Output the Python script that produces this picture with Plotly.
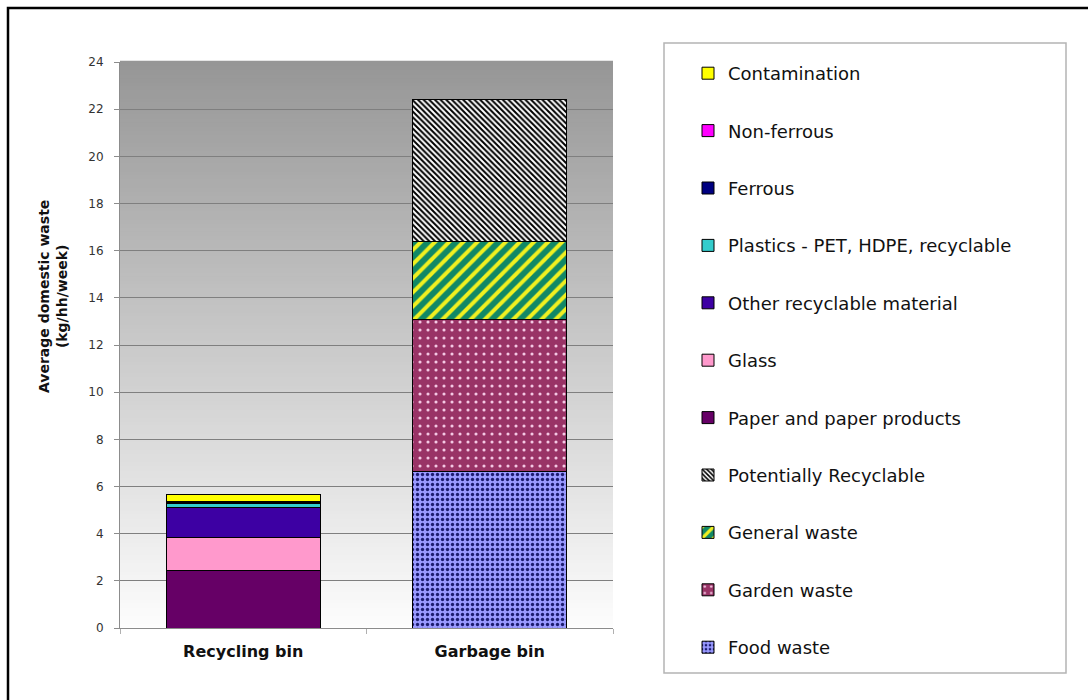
import plotly.graph_objects as go

# Bin categories
bins = ["Recycling bin", "Garbage bin"]

# Waste composition (kg per household per week), stacked bottom to top
food_waste = [0, 6.63]
garden_waste = [0, 6.46]
general_waste = [0, 3.29]
potentially_recyclable = [0, 6.01]
paper = [2.43, 0]
glass = [1.42, 0]
other_recyclable = [1.28, 0]
plastics = [0.13, 0]
ferrous = [0.08, 0]
non_ferrous = [0.02, 0]
contamination = [0.31, 0]

y_ticks = list(range(0, 25, 2))

series = [
    ("Food waste", food_waste, "#9999ff", dict(shape=".", fgcolor="#1c1c70", bgcolor="#9999ff", size=5, solidity=0.35)),
    ("Garden waste", garden_waste, "#993366", dict(shape=".", fgcolor="#f4c8e4", bgcolor="#993366", size=8, solidity=0.12)),
    ("General waste", general_waste, "#118866", dict(shape="/", fgcolor="#f0f020", bgcolor="#118866", size=10, solidity=0.4)),
    ("Potentially Recyclable", potentially_recyclable, "#ffffff", dict(shape="\\", fgcolor="#000000", bgcolor="#ffffff", size=4, solidity=0.5)),
    ("Paper and paper products", paper, "#660066", None),
    ("Glass", glass, "#ff99cc", None),
    ("Other recyclable material", other_recyclable, "#3d00a3", None),
    ("Plastics - PET, HDPE, recyclable", plastics, "#33cccc", None),
    ("Ferrous", ferrous, "#000080", None),
    ("Non-ferrous", non_ferrous, "#ff00ff", None),
    ("Contamination", contamination, "#ffff00", None),
]

fig = go.Figure()
n_series = len(series)
for i, (name, vals, color, pattern) in enumerate(series):
    marker = dict(color=color, line=dict(color="#000000", width=1))
    if pattern:
        marker["pattern"] = dict(fillmode="replace", **pattern)
    fig.add_trace(go.Bar(
        x=bins, y=vals, name=name, marker=marker,
        legendgroup=f"g{i}", legendrank=n_series - i,
    ))

# Vertical grey-to-white gradient behind the plot area
shapes = []
n_bands = 140
for k in range(n_bands):
    t = k / n_bands
    v = int(round(253 - (253 - 150) * (t + 0.5 / n_bands)))
    shapes.append(dict(
        type="rect", xref="x domain", yref="y domain",
        x0=0, x1=1, y0=t, y1=(k + 1) / n_bands + 0.002,
        fillcolor=f"rgb({v},{v},{v})", line=dict(width=0), layer="below",
    ))

# Legend box
shapes.append(dict(
    type="rect", xref="paper", yref="paper",
    x0=(664 - 120) / 493, x1=(1066 - 120) / 493,
    y0=(628 - 673) / 566, y1=(628 - 43) / 566,
    line=dict(color="#b4b4b4", width=1.5), fillcolor="rgba(255,255,255,0)", layer="above",
))
# Outer frame
shapes.append(dict(
    type="rect", xref="paper", yref="paper",
    x0=(8 - 120) / 493, x1=(1110 - 120) / 493,
    y0=(628 - 720) / 566, y1=(628 - 8) / 566,
    line=dict(color="#000000", width=2.5), fillcolor="rgba(255,255,255,0)", layer="above",
))

# Y-axis title, placed as a rotated annotation
annotations = [dict(
    text="<b>Average domestic waste<br>(kg/hh/week)</b>",
    xref="paper", yref="paper",
    x=(53 - 120) / 493, y=(628 - 297) / 566,
    xanchor="center", yanchor="middle",
    textangle=-90, showarrow=False,
    font=dict(size=14, family="DejaVu Sans", color="#111111"),
)]

fig.update_layout(
    width=1088, height=700,
    margin=dict(l=120, r=475, t=62, b=72),
    paper_bgcolor="#ffffff",
    plot_bgcolor="#ffffff",
    barmode="stack",
    bargap=0.375,
    font=dict(family="DejaVu Sans", color="#222222"),
    shapes=shapes,
    annotations=annotations,
    showlegend=True,
    legend=dict(
        x=(688 - 120) / 493, xanchor="left",
        y=(628 - 55) / 566, yanchor="top",
        traceorder="grouped",
        tracegroupgap=31,
        maxheight=1.0,
        font=dict(size=18, family="DejaVu Sans", color="#111111"),
        bgcolor="rgba(0,0,0,0)", borderwidth=0,
    ),
    xaxis=dict(
        showline=True, linecolor="#8c8c8c", linewidth=1,
        ticks="outside", tickson="boundaries", ticklen=5, tickcolor="#b0b0b0",
        tickfont=dict(size=16, family="DejaVu Sans", color="#111111", weight="bold"),
        ticklabelstandoff=9,
        showgrid=False,
    ),
    yaxis=dict(
        range=[0, 24], tickvals=y_ticks, ticks="outside", ticklen=5,
        tickcolor="#8c8c8c",
        showline=True, linecolor="#8c8c8c", linewidth=1,
        showgrid=True, gridcolor="#7f7f7f", gridwidth=1,
        tickfont=dict(size=12, family="DejaVu Sans", color="#333333"),
        ticklabelstandoff=8,
        automargin=False,
    ),
)

fig.write_html("out.html")
